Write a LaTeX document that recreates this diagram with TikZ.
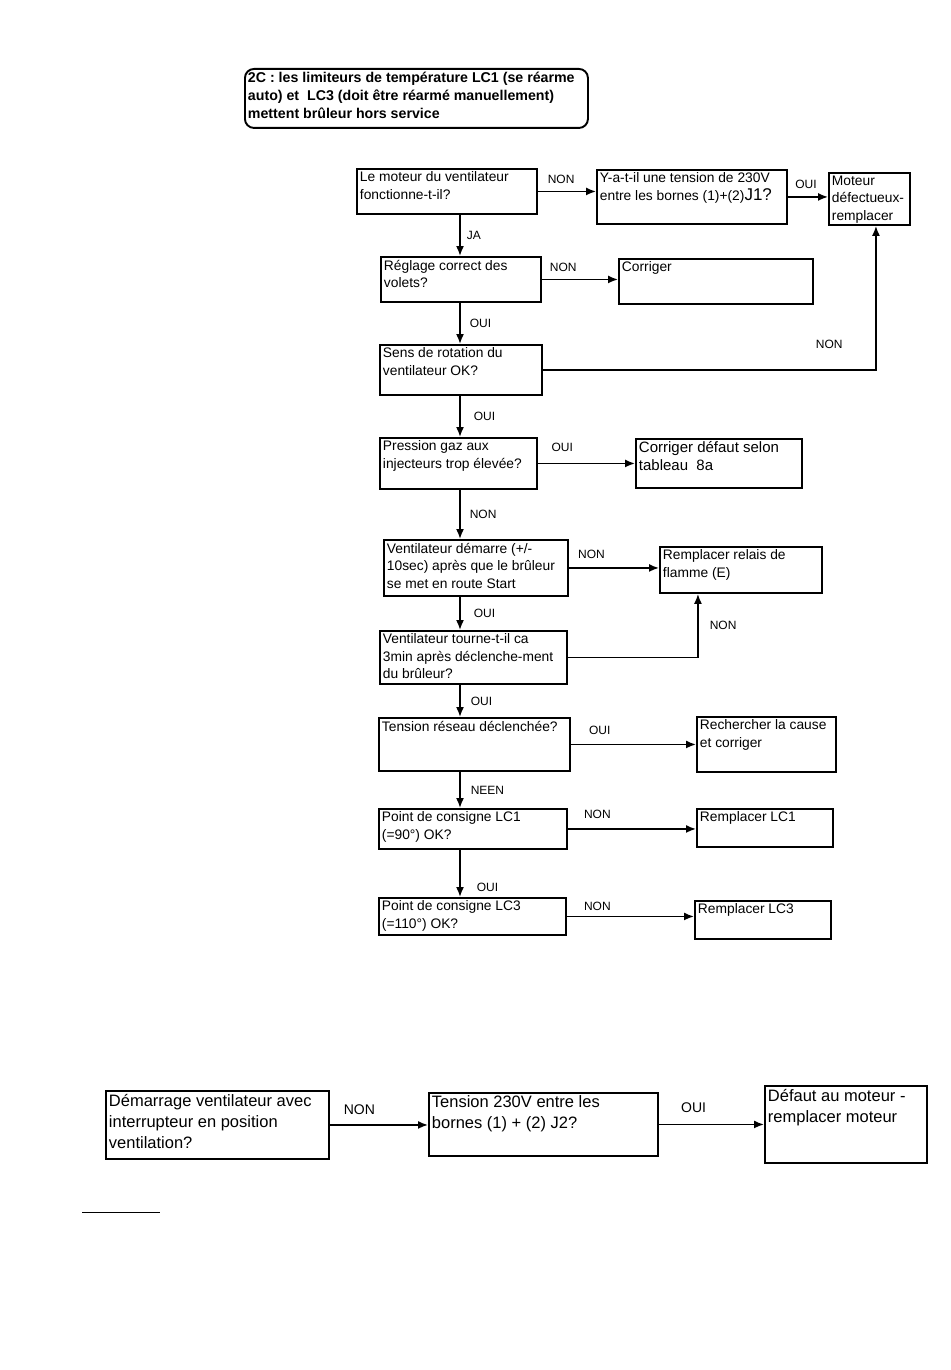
\documentclass[tikz,border=0pt]{standalone}
\usepackage{fontspec}
\setmainfont{Liberation Sans}
\usetikzlibrary{arrows.meta}
\newcommand{\boxtxt}[3]{\parbox[t][#2pt][t]{#1pt}{\raggedright #3}}

\begin{document}
\begin{tikzpicture}
		[x=1pt, y=-1pt,
		box/.style={draw, line width=1.9pt, anchor=north west, inner sep=3pt, font=\fontsize{13.8}{17.5}\selectfont},
		bigbox/.style={box, font=\fontsize{16.5}{21}\selectfont},
		lbl/.style={inner sep=1pt, font=\fontsize{12}{13}\selectfont},
		biglbl/.style={inner sep=1pt, font=\fontsize{14}{15}\selectfont},
		arr/.style={->, line width=1.6pt},
		>={Latex[length=10pt,width=8pt]}]
		\useasboundingbox (0,0) rectangle (950,1370);
		\coordinate (spine) at (460,0);

		% title
		\node[box, rounded corners=9pt, font=\fontsize{14.2}{18}\selectfont\bfseries] (titre) at (244,68)
			{\boxtxt{337}{53}{2C : les limiteurs de température LC1 (se réarme\\auto) et\ \ LC3 (doit être réarmé manuellement)\\mettent brûleur hors service}};

		% main column
		\node[box] (moteur) at (356,168) {\boxtxt{174}{39}{Le moteur du ventilateur\\fonctionne-t-il?}};
		\node[box] (tension) at (596,169) {\boxtxt{184}{48}{Y-a-t-il une tension de 230V\\entre les bornes (1)+(2){\fontsize{17}{17}\selectfont J1?}}};
		\node[box] (defect) at (828,172) {\boxtxt{75}{46}{Moteur\\défectueux-\\remplacer}};
		\node[box] (reglage) at (380,256) {\boxtxt{154}{39}{Réglage correct des\\volets?}};
		\node[box] (corriger) at (618,258) {\boxtxt{188}{39}{Corriger}};
		\node[box] (sens) at (379,344) {\boxtxt{156}{44}{Sens de rotation du\\ventilateur OK?}};
		\node[box] (pression) at (379,437) {\boxtxt{151}{45}{Pression gaz aux\\injecteurs trop élevée?}};
		\node[box, font=\fontsize{15}{18}\selectfont] (selon) at (635,438) {\boxtxt{160}{43}{Corriger défaut selon\\tableau\ \ 8a}};
		\node[box] (demarre) at (383,539) {\boxtxt{178}{50}{Ventilateur démarre (+/-\\10sec) après que le brûleur\\se met en route Start}};
		\node[box] (relais) at (659,546) {\boxtxt{156}{40}{Remplacer relais de\\flamme (E)}};
		\node[box] (tourne) at (379,630) {\boxtxt{181}{47}{Ventilateur tourne-t-il ca\\3min après déclenche-ment\\du brûleur?}};
		\node[box] (reseau) at (378,717) {\boxtxt{185}{47}{Tension réseau déclenchée?}};
		\node[box] (cause) at (696,716) {\boxtxt{133}{49}{Rechercher la cause\\et corriger}};
		\node[box] (lcun) at (378,808) {\boxtxt{182}{34}{Point de consigne LC1\\(=90°) OK?}};
		\node[box] (remplun) at (696,808) {\boxtxt{130}{32}{Remplacer LC1}};
		\node[box] (lctrois) at (378,897) {\boxtxt{181}{31}{Point de consigne LC3\\(=110°) OK?}};
		\node[box] (rempltrois) at (694,900) {\boxtxt{130}{32}{Remplacer LC3}};

		% bottom row
		\node[bigbox] (demarrage) at (105,1090) {\boxtxt{217}{62}{Démarrage ventilateur avec\\interrupteur en position\\ventilation?}};
		\node[bigbox] (tensionb) at (428,1092) {\boxtxt{223}{57}{Tension 230V entre les\\bornes (1) + (2) J2?}};
		\node[bigbox] (moteurb) at (764,1085) {\boxtxt{156}{71}{Défaut au moteur -\\remplacer moteur}};

		% down the column
		\draw[arr] (moteur.south -| spine) -- node[lbl, right=5pt]{JA} (reglage.north -| spine);
		\draw[arr] (reglage.south -| spine) -- node[lbl, right=8pt]{OUI} (sens.north -| spine);
		\draw[arr] (sens.south -| spine) -- node[lbl, right=12pt]{OUI} (pression.north -| spine);
		\draw[arr] (pression.south -| spine) -- node[lbl, right=8pt]{NON} (demarre.north -| spine);
		\draw[arr] (demarre.south -| spine) -- node[lbl, right=12pt]{OUI} (tourne.north -| spine);
		\draw[arr] (tourne.south -| spine) -- node[lbl, right=9pt]{OUI} (reseau.north -| spine);
		\draw[arr] (reseau.south -| spine) -- node[lbl, right=9pt]{NEEN} (lcun.north -| spine);
		\draw[arr] (lcun.south -| spine) -- node[lbl, right=15pt, pos=0.8]{OUI} (lctrois.north -| spine);

		% to the right
		\draw[arr] (moteur.east) -- node[lbl, above=6pt, pos=0.4]{NON} (moteur.east -| tension.west);
		\draw[arr] (tension.east) -- node[lbl, above=7pt, pos=0.45]{OUI} (tension.east -| defect.west);
		\draw[arr] (reglage.east) -- node[lbl, above=6pt, pos=0.28]{NON} (reglage.east -| corriger.west);
		\draw[arr] (sens.east) -| node[lbl, pos=0.43, above=20pt]{NON} ([xshift=6.5pt]defect.south);
		\draw[arr] (pression.east) -- node[lbl, above=10pt, pos=0.25]{OUI} (pression.east -| selon.west);
		\draw[arr] (demarre.east) -- node[lbl, above=8pt, pos=0.25]{NON} (demarre.east -| relais.west);
		\draw[arr] (tourne.east) -| node[lbl, pos=0.75, right=10pt]{NON} ([xshift=-43pt]relais.south);
		\draw[arr] (reseau.east) -- node[lbl, above=8pt, pos=0.23]{OUI} (reseau.east -| cause.west);
		\draw[arr] (lcun.east) -- node[lbl, above=9pt, pos=0.23]{NON} (lcun.east -| remplun.west);
		\draw[arr] (lctrois.east) -- node[lbl, above=4pt, pos=0.24]{NON} (lctrois.east -| rempltrois.west);
		\draw[arr] (demarrage.east) -- node[biglbl, above=9pt, pos=0.3]{NON} (demarrage.east -| tensionb.west);
		\draw[arr] (tensionb.east) -- node[biglbl, above=10pt, pos=0.33]{OUI} (tensionb.east -| moteurb.west);

		\draw[line width=0.8pt] (82,1212) -- (160,1212);
	\end{tikzpicture}
\end{document}
